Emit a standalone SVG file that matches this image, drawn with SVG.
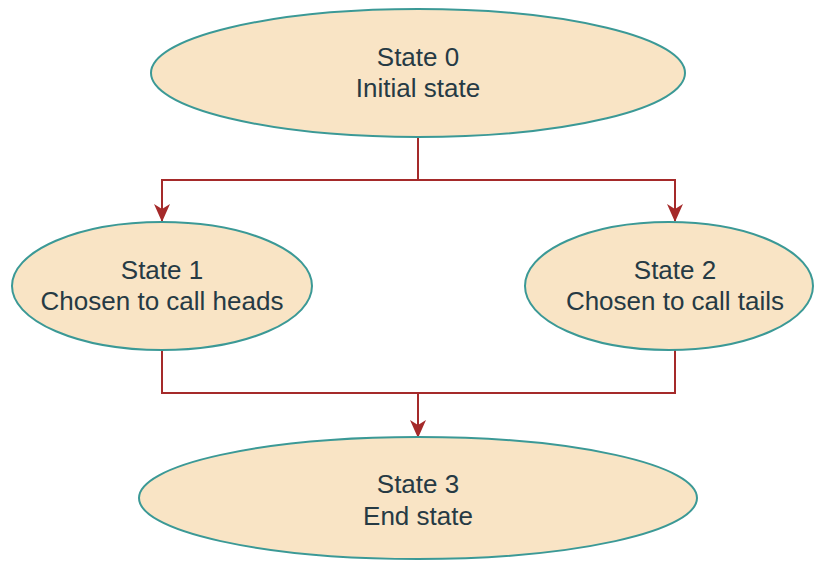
<svg xmlns="http://www.w3.org/2000/svg" width="814" height="561" viewBox="0 0 814 561">
  <style>
    .state { fill: #f9e4c5; stroke: #3b9996; stroke-width: 2; }
    .label { font-family: "Liberation Sans", Arial, sans-serif; font-size: 26px; fill: #263a44; text-anchor: middle; }
    .edge { fill: none; stroke: #a52a2a; stroke-width: 2; }
  </style>
  <defs>
    <marker id="arrow" viewBox="0 0 18 18" refX="17" refY="9" markerWidth="18" markerHeight="18" markerUnits="userSpaceOnUse" orient="auto">
      <path d="M0,1 L18,9 L0,17 L5,9 Z" fill="#a52a2a"/>
    </marker>
  </defs>
  <rect width="814" height="561" fill="#ffffff"/>

  <g id="connectors">
    <path class="edge" d="M418,137 V180 H162 V221" marker-end="url(#arrow)"/>
    <path class="edge" d="M418,180 H675 V221" marker-end="url(#arrow)"/>
    <path class="edge" d="M162,350 V393 H418 V437" marker-end="url(#arrow)"/>
    <path class="edge" d="M675,350 V393 H418"/>
  </g>

  <g id="state0">
    <ellipse class="state" cx="418" cy="73" rx="267" ry="64"/>
    <text class="label" x="418" y="66">State 0</text>
    <text class="label" x="418" y="97">Initial state</text>
  </g>

  <g id="state1">
    <ellipse class="state" cx="162" cy="286" rx="150" ry="64"/>
    <text class="label" x="162" y="279">State 1</text>
    <text class="label" x="162" y="310">Chosen to call heads</text>
  </g>

  <g id="state2">
    <ellipse class="state" cx="669" cy="286" rx="144" ry="64"/>
    <text class="label" x="675" y="279">State 2</text>
    <text class="label" x="675" y="310">Chosen to call tails</text>
  </g>

  <g id="state3">
    <ellipse class="state" cx="418" cy="498" rx="279" ry="61"/>
    <text class="label" x="418" y="493">State 3</text>
    <text class="label" x="418" y="525">End state</text>
  </g>
</svg>
